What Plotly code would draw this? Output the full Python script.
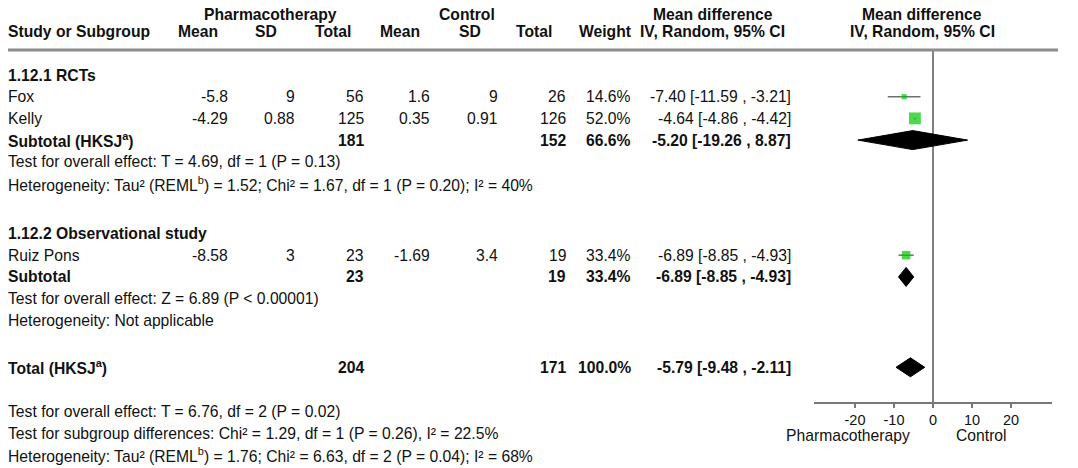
import plotly.graph_objects as go

# study rows
studies = ["Fox", "Kelly", "Ruiz Pons"]
study_group = [0, 0, 1]
ph_mean = ["-5.8", "-4.29", "-8.58"]
ph_sd = ["9", "0.88", "3"]
ph_n = [56, 125, 23]
ct_mean = ["1.6", "0.35", "-1.69"]
ct_sd = ["9", "0.91", "3.4"]
ct_n = [26, 126, 19]
weight = [14.6, 52.0, 33.4]
md = [-7.40, -4.64, -6.89]
md_lo = [-11.59, -4.86, -8.85]
md_hi = [-3.21, -4.42, -4.93]

# subgroups
groups = ["1.12.1 RCTs", "1.12.2 Observational study"]
sub_label = ["Subtotal (HKSJ<sup>a</sup>)", "Subtotal"]
sub_ph_n = [181, 23]
sub_ct_n = [152, 19]
sub_weight = [66.6, 33.4]
sub_md = [-5.20, -6.89]
sub_lo = [-19.26, -8.85]
sub_hi = [8.87, -4.93]
sub_notes = [
    ["Test for overall effect: T = 4.69, df = 1 (P = 0.13)",
     "Heterogeneity: Tau² (REML<sup>b</sup>) = 1.52; Chi² = 1.67, df = 1 (P = 0.20); I² = 40%"],
    ["Test for overall effect: Z = 6.89 (P < 0.00001)",
     "Heterogeneity: Not applicable"],
]

# overall
total_label = "Total (HKSJ<sup>a</sup>)"
total_ph_n = 204
total_ct_n = 171
total_weight = 100.0
total_md = -5.79
total_lo = -9.48
total_hi = -2.11
total_notes = [
    "Test for overall effect: T = 6.76, df = 2 (P = 0.02)",
    "Test for subgroup differences: Chi² = 1.29, df = 1 (P = 0.26), I² = 22.5%",
    "Heterogeneity: Tau² (REML<sup>b</sup>) = 1.76; Chi² = 6.63, df = 2 (P = 0.04); I² = 68%",
]

tick_vals = [-20, -10, 0, 10, 20]
tick_text = ["-20", "-10", "0", "10", "20"]
favours = ["Pharmacotherapy", "Control"]

# page layout (pixels on the page; the html body adds an 8px margin)
OFF = 8
W, H = 1078 - OFF, 468 - OFF
FONT = "Liberation Sans, Arial, sans-serif"
FS = 15.7
STEP = 21.7
RULE_Y = 50
AXIS_Y = 403
COL_R = [230, 297, 366, 432, 500, 568, 633, 793]   # right edges of value columns
LEFT = 6
DIAMOND_H = 9.5


def px(x):
    return (x - OFF) / W


anns = []


def txt(x, y, s, anchor="left", bold=False, size=FS):
    if bold:
        s = "<b>" + s + "</b>"
    anns.append(dict(x=px(x), y=y, xref="paper", yref="y", text=s, showarrow=False,
                     xanchor=anchor, yanchor="middle",
                     font=dict(family=FONT, size=size, color="#111")))


def fmt_ci(m, lo, hi):
    return f"{m:.2f} [{lo:.2f} , {hi:.2f}]"


# headers
for s, cx in [("Pharmacotherapy", 270), ("Control", 467), ("Mean difference", 713), ("Mean difference", 922)]:
    txt(cx, 14, s, "center", True)
txt(LEFT, 31, "Study or Subgroup", "left", True)
for s, cx in [("Mean", 198), ("SD", 266), ("Total", 333), ("Mean", 400), ("SD", 470),
              ("Total", 534), ("Weight", 605), ("IV, Random, 95% CI", 712), ("IV, Random, 95% CI", 922)]:
    txt(cx, 31, s, "center", True)

# rows
y = 75
sq_x, sq_y, sq_s = [], [], []
wx, wy = [], []
dx, dy = [], []


def diamond(m, lo, hi, yy):
    dx.extend([lo, m, hi, m, lo, None])
    dy.extend([yy, yy - DIAMOND_H, yy, yy + DIAMOND_H, yy, None])


for g, gname in enumerate(groups):
    txt(LEFT, y, gname, bold=True)
    y += STEP
    for i, s in enumerate(studies):
        if study_group[i] != g:
            continue
        txt(LEFT, y, s)
        vals = [ph_mean[i], ph_sd[i], str(ph_n[i]), ct_mean[i], ct_sd[i], str(ct_n[i]),
                f"{weight[i]:.1f}%", fmt_ci(md[i], md_lo[i], md_hi[i])]
        for v, cx in zip(vals, COL_R):
            txt(cx, y, v, "right")
        sq_x.append(md[i]); sq_y.append(y); sq_s.append(2.5 + weight[i] * 0.18)
        wx.extend([md_lo[i], md_hi[i], None]); wy.extend([y, y, None])
        y += STEP
    txt(LEFT, y, sub_label[g], bold=True)
    txt(COL_R[2], y, str(sub_ph_n[g]), "right", True)
    txt(COL_R[5], y, str(sub_ct_n[g]), "right", True)
    txt(COL_R[6], y, f"{sub_weight[g]:.1f}%", "right", True)
    txt(COL_R[7], y, fmt_ci(sub_md[g], sub_lo[g], sub_hi[g]), "right", True)
    diamond(sub_md[g], sub_lo[g], sub_hi[g], y)
    y += STEP
    for n in sub_notes[g]:
        txt(LEFT, y, n)
        y += STEP
    y += 50 - STEP if g == 0 else 47 - STEP

txt(LEFT, y, total_label, bold=True)
txt(COL_R[2], y, str(total_ph_n), "right", True)
txt(COL_R[5], y, str(total_ct_n), "right", True)
txt(COL_R[6], y, f"{total_weight:.1f}%", "right", True)
txt(COL_R[7], y, fmt_ci(total_md, total_lo, total_hi), "right", True)
diamond(total_md, total_lo, total_hi, y)
y += 44
for n in total_notes:
    txt(LEFT, y, n)
    y += STEP

txt(848, 435, favours[0], "center")
txt(981, 435, favours[1], "center")

fig = go.Figure()
fig.add_trace(go.Scatter(x=wx, y=wy, mode="lines", line=dict(color="#707070", width=1.5),
                         hoverinfo="skip", showlegend=False))
fig.add_trace(go.Scatter(x=sq_x, y=sq_y, mode="markers",
                         marker=dict(symbol="square", size=sq_s, color="#00c800", line=dict(width=0)),
                         hoverinfo="skip", showlegend=False))
fig.add_trace(go.Scatter(x=dx, y=dy, mode="lines", fill="toself", fillcolor="black",
                         line=dict(color="black", width=1), hoverinfo="skip", showlegend=False))

fig.update_layout(
    width=W, height=H,
    margin=dict(l=0, r=0, t=0, b=0),
    paper_bgcolor="white", plot_bgcolor="rgba(0,0,0,0)",
    font=dict(family=FONT, size=FS, color="#111"),
    annotations=anns,
    xaxis=dict(domain=[px(814), px(1052)], range=[-30.5, 30.5], anchor="free",
               position=1 - (AXIS_Y - OFF) / H, showline=True, linecolor="#777", linewidth=2,
               ticks="outside", ticklen=4, tickcolor="#777", tickwidth=2,
               tickvals=tick_vals, ticktext=tick_text, showgrid=False, zeroline=False,
               tickfont=dict(family=FONT, size=14.5, color="#111")),
    yaxis=dict(domain=[0, 1], range=[468, OFF], visible=False, fixedrange=True),
    shapes=[
        dict(type="line", xref="paper", yref="y", x0=px(5), x1=px(1058), y0=RULE_Y, y1=RULE_Y,
             line=dict(color="#8c8c8c", width=3)),
        dict(type="line", xref="x", yref="y", x0=0, x1=0, y0=RULE_Y, y1=AXIS_Y,
             line=dict(color="#808080", width=2), layer="below"),
    ],
)

fig.write_html("out.html")
